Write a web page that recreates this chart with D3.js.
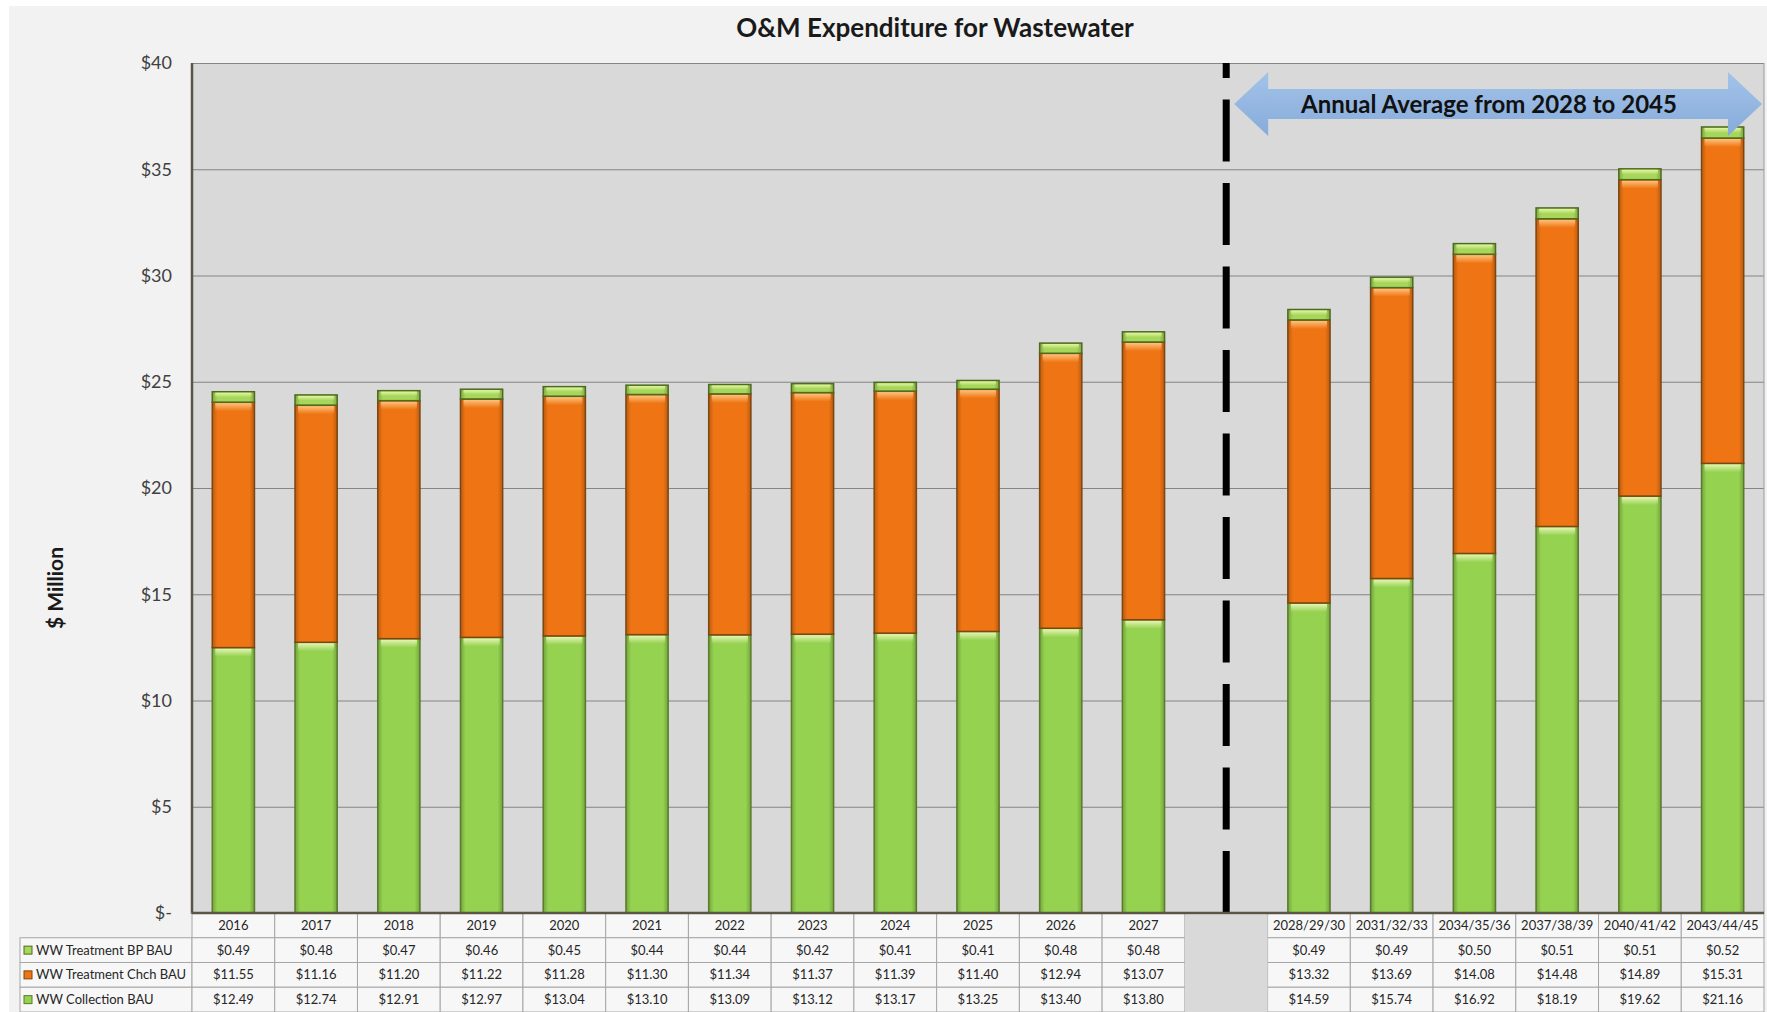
<!DOCTYPE html>
<html>
<head>
<meta charset="utf-8">
<script src="https://cdn.jsdelivr.net/npm/d3@7"></script>
<style>
  body { margin: 0; background: #ffffff; }
  svg { display: block; font-family: Lato, 'Open Sans', sans-serif; }
</style>
</head>
<body>
<svg id="chart" width="1767" height="1012"></svg>
<script>
// periods shown on the x axis (the blank slot between the two groups holds the dashed divider)
const periods = ['2016', '2017', '2018', '2019', '2020', '2021', '2022', '2023', '2024', '2025', '2026', '2027',
  '2028/29/30', '2031/32/33', '2034/35/36', '2037/38/39', '2040/41/42', '2043/44/45']
const gapKey = 'gap'
const gapAfter = '2027'

// $ million
const collection = [12.49, 12.74, 12.91, 12.97, 13.04, 13.10, 13.09, 13.12, 13.17, 13.25, 13.40, 13.80,
  14.59, 15.74, 16.92, 18.19, 19.62, 21.16]
const treatmentChch = [11.55, 11.16, 11.20, 11.22, 11.28, 11.30, 11.34, 11.37, 11.39, 11.40, 12.94, 13.07,
  13.32, 13.69, 14.08, 14.48, 14.89, 15.31]
const treatmentBP = [0.49, 0.48, 0.47, 0.46, 0.45, 0.44, 0.44, 0.42, 0.41, 0.41, 0.48, 0.48,
  0.49, 0.49, 0.50, 0.51, 0.51, 0.52]

const seriesNames = ['WW Collection BAU', 'WW Treatment Chch BAU', 'WW Treatment BP BAU']
const yTicks = [0, 5, 10, 15, 20, 25, 30, 35, 40]

const title = 'O&M Expenditure for Wastewater'
const yLabel = '$ Million'
const note = 'Annual Average from 2028 to 2045'

// ---- layout
const W = 1767
const H = 1012
const plotLeft = 192
const plotRight = 1764
const plotTop = 63
const plotBottom = 913
const rowH = 24.75
const tableLeft = 20

const svg = d3.select('#chart')

// series styling (fill, edge, highlight)
const styles = {
  'WW Collection BAU': { fill: '#94d250', edge: '#5b7a2b', light: '#eaf7b8' },
  'WW Treatment Chch BAU': { fill: '#ef7514', edge: '#7b4612', light: '#ffc680' },
  'WW Treatment BP BAU': { fill: '#a6d65a', edge: '#4e6a20', light: '#e6f7a8' }
}

const defs = svg.append('defs')
seriesNames.forEach((name, i) => {
  const s = styles[name]
  const g = defs.append('linearGradient').attr('id', 'side' + i).attr('x1', 0).attr('x2', 1).attr('y1', 0).attr('y2', 0)
  g.append('stop').attr('offset', 0).attr('stop-color', d3.color(s.fill).darker(0.7))
  g.append('stop').attr('offset', 0.12).attr('stop-color', s.fill)
  g.append('stop').attr('offset', 0.88).attr('stop-color', s.fill)
  g.append('stop').attr('offset', 1).attr('stop-color', d3.color(s.fill).darker(0.7))
  const h = defs.append('linearGradient').attr('id', 'hi' + i).attr('x1', 0).attr('x2', 0).attr('y1', 0).attr('y2', 1)
  h.append('stop').attr('offset', 0).attr('stop-color', s.light).attr('stop-opacity', 0.95)
  h.append('stop').attr('offset', 1).attr('stop-color', s.light).attr('stop-opacity', 0)
})
const arrowGrad = defs.append('linearGradient').attr('id', 'arrowGrad').attr('x1', 0).attr('x2', 0).attr('y1', 0).attr('y2', 1)
arrowGrad.append('stop').attr('offset', 0).attr('stop-color', '#a3c3e8')
arrowGrad.append('stop').attr('offset', 1).attr('stop-color', '#86abdb')
defs.append('filter').attr('id', 'soft').append('feGaussianBlur').attr('stdDeviation', 2)

// page background
svg.append('rect').attr('x', 9).attr('y', 6).attr('width', W - 9).attr('height', H - 6).attr('fill', '#f2f2f2')

// ---- scales
const slots = periods.slice()
slots.splice(periods.indexOf(gapAfter) + 1, 0, gapKey)

const xCell = d3.scaleBand().domain(slots).range([plotLeft, plotRight])
const x = d3.scaleBand().domain(slots).range([plotLeft, plotRight]).paddingInner(0.49).paddingOuter(0.245)
const y = d3.scaleLinear().domain([0, 40]).range([plotBottom, plotTop])

// plot area
svg.append('rect').attr('x', plotLeft).attr('y', plotTop).attr('width', plotRight - plotLeft).attr('height', plotBottom - plotTop)
  .attr('fill', '#d9d9d9')

// gridlines
svg.append('g')
  .attr('transform', `translate(${plotLeft},0)`)
  .call(d3.axisLeft(y).tickValues(yTicks.filter(d => d > 0)).tickSize(-(plotRight - plotLeft)).tickFormat(''))
  .call(g => g.select('.domain').remove())
  .call(g => g.selectAll('line').attr('stroke', '#858585').attr('stroke-width', 1.2))

svg.append('line').attr('x1', plotRight).attr('x2', plotRight).attr('y1', plotTop).attr('y2', plotBottom)
  .attr('stroke', '#9a9a9a')

// y axis labels
svg.append('g')
  .attr('transform', `translate(${plotLeft},0)`)
  .call(d3.axisLeft(y).tickValues(yTicks).tickSize(0).tickPadding(20)
    .tickFormat(d => d === 0 ? '$-' : '$' + d))
  .call(g => g.select('.domain').remove())
  .call(g => g.selectAll('text').attr('font-size', 18).attr('fill', '#404040').attr('font-family', 'Lato, sans-serif'))

// ---- stacked bars
const rows = periods.map((p, i) => ({
  period: p,
  'WW Collection BAU': collection[i],
  'WW Treatment Chch BAU': treatmentChch[i],
  'WW Treatment BP BAU': treatmentBP[i]
}))
const stacked = d3.stack().keys(seriesNames)(rows)

stacked.forEach((layer, i) => {
  const s = styles[layer.key]
  const g = svg.append('g').attr('class', 'series')
  g.selectAll('rect.seg')
    .data(layer)
    .join('rect')
    .attr('class', 'seg')
    .attr('x', d => x(d.data.period))
    .attr('y', d => y(d[1]))
    .attr('width', x.bandwidth())
    .attr('height', d => y(d[0]) - y(d[1]))
    .attr('fill', `url(#side${i})`)
    .attr('stroke', s.edge)
    .attr('stroke-width', 1.5)
  g.selectAll('rect.hi')
    .data(layer)
    .join('rect')
    .attr('class', 'hi')
    .attr('x', d => x(d.data.period) + 3)
    .attr('y', d => y(d[1]) + 1)
    .attr('width', x.bandwidth() - 6)
    .attr('height', d => Math.min(8, (y(d[0]) - y(d[1])) * 0.45))
    .attr('fill', `url(#hi${i})`)
})

// axis frame (left)
svg.append('line').attr('x1', plotLeft).attr('x2', plotLeft).attr('y1', plotTop).attr('y2', plotBottom + 1)
  .attr('stroke', '#5a5545').attr('stroke-width', 2.5)

// ---- dashed divider
const divX = xCell(gapKey) + xCell.bandwidth() / 2
svg.append('line').attr('x1', divX).attr('x2', divX).attr('y1', plotBottom).attr('y2', plotTop)
  .attr('stroke', '#8a8a8a').attr('stroke-width', 9).attr('stroke-dasharray', '62,21.5')
  .attr('filter', 'url(#soft)').attr('opacity', 0.7)
svg.append('line').attr('x1', divX).attr('x2', divX).attr('y1', plotBottom).attr('y2', plotTop)
  .attr('stroke', '#000').attr('stroke-width', 7).attr('stroke-dasharray', '62,21.5')

// ---- double arrow annotation
const aL = divX + 8
const aR = plotRight - 2
const aY = 104
const shaft = 15
const head = 32
const headLen = 34
const arrowPts = [
  [aL, aY], [aL + headLen, aY - head], [aL + headLen, aY - shaft], [aR - headLen, aY - shaft],
  [aR - headLen, aY - head], [aR, aY], [aR - headLen, aY + head], [aR - headLen, aY + shaft],
  [aL + headLen, aY + shaft], [aL + headLen, aY + head]
]
svg.append('polygon').attr('points', arrowPts.map(p => p.join(',')).join(' '))
  .attr('fill', 'url(#arrowGrad)')
svg.append('text').attr('x', 1489).attr('y', aY + 8.5)
  .attr('text-anchor', 'middle').attr('font-size', 24).attr('font-weight', 700).attr('fill', '#111')
  .text(note)

// ---- title and y label
svg.append('text').attr('x', 935).attr('y', 37).attr('text-anchor', 'middle')
  .attr('font-size', 26).attr('font-weight', 700).attr('fill', '#1a1a1a').text(title)
svg.append('text').attr('transform', 'translate(63,588) rotate(-90)').attr('text-anchor', 'middle')
  .attr('font-size', 21).attr('font-weight', 700).attr('fill', '#1a1a1a').text(yLabel)

// ---- data table
const table = svg.append('g').attr('class', 'table')
const tableRows = [
  { name: 'WW Treatment BP BAU', values: treatmentBP },
  { name: 'WW Treatment Chch BAU', values: treatmentChch },
  { name: 'WW Collection BAU', values: collection }
]
const cellFill = '#f7f7f7'
const cellLine = '#a6a6a6'

// header row with periods
table.selectAll('rect.head').data(periods).join('rect').attr('class', 'head')
  .attr('x', d => xCell(d)).attr('y', plotBottom).attr('width', xCell.bandwidth()).attr('height', rowH)
  .attr('fill', cellFill).attr('stroke', cellLine)
table.selectAll('text.head').data(periods).join('text').attr('class', 'head')
  .attr('x', d => xCell(d) + xCell.bandwidth() / 2).attr('y', plotBottom + rowH / 2 + 4.5)
  .attr('text-anchor', 'middle').attr('font-size', 13).attr('fill', '#262626').text(d => d)

tableRows.forEach((r, ri) => {
  const ry = plotBottom + rowH * (ri + 1)
  const g = table.append('g')
  g.append('rect').attr('x', tableLeft).attr('y', ry).attr('width', plotLeft - tableLeft).attr('height', rowH)
    .attr('fill', cellFill).attr('stroke', cellLine)
  const s = styles[r.name]
  g.append('rect').attr('x', tableLeft + 4).attr('y', ry + rowH / 2 - 4).attr('width', 8).attr('height', 8)
    .attr('fill', s.fill).attr('stroke', s.edge).attr('stroke-width', 1)
  g.append('text').attr('x', tableLeft + 16).attr('y', ry + rowH / 2 + 4.5)
    .attr('font-size', 13).attr('fill', '#262626').text(r.name)
  g.selectAll('rect.cell').data(periods).join('rect').attr('class', 'cell')
    .attr('x', d => xCell(d)).attr('y', ry).attr('width', xCell.bandwidth()).attr('height', rowH)
    .attr('fill', cellFill).attr('stroke', cellLine)
  g.selectAll('text.cell').data(periods).join('text').attr('class', 'cell')
    .attr('x', d => xCell(d) + xCell.bandwidth() / 2).attr('y', ry + rowH / 2 + 4.5)
    .attr('text-anchor', 'middle').attr('font-size', 13).attr('fill', '#262626')
    .text((d, i) => '$' + r.values[i].toFixed(2))
})

// blank grey cell under the divider
table.append('rect').attr('x', xCell(gapKey)).attr('y', plotBottom + 1.5)
  .attr('width', xCell.bandwidth()).attr('height', H - plotBottom)
  .attr('fill', '#d9d9d9')

// bottom frame line over the table top
svg.append('line').attr('x1', plotLeft).attr('x2', plotRight).attr('y1', plotBottom).attr('y2', plotBottom)
  .attr('stroke', '#5a5545').attr('stroke-width', 2.5)
</script>
</body>
</html>
